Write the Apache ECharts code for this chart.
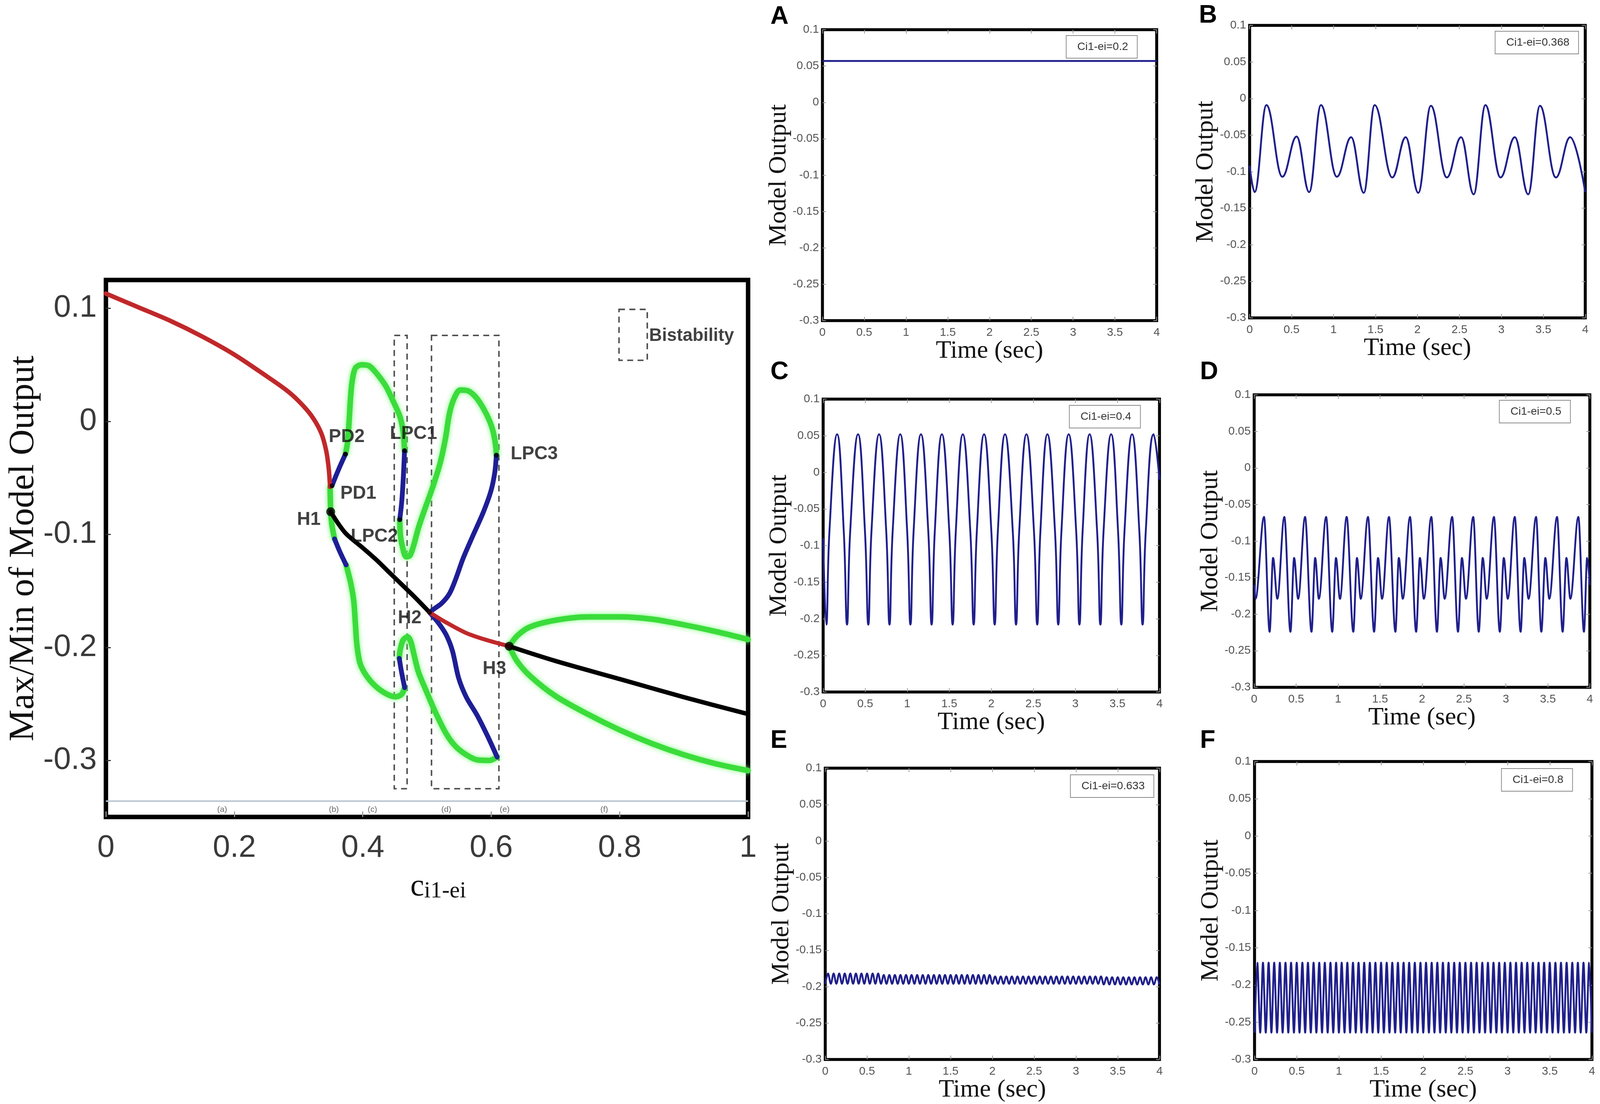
<!DOCTYPE html>
<html lang="en">
<head>
<meta charset="UTF-8">
<title>Bifurcation diagram and model output</title>
<script src="https://cdn.jsdelivr.net/npm/echarts@6/dist/echarts.min.js"></script>
<style>
  html, body { margin: 0; padding: 0; background: #fff; overflow: hidden; }
  #main { width: 100vw; height: 100vh; }
</style>
</head>
<body>
<div id="main"></div>
<script>
// ---------- left panel: branches of the bifurcation diagram [ci1-ei, max/min output]
var redUpper = [[0,0.113],[0.05,0.101],[0.1,0.089],[0.15,0.075],[0.2,0.059],[0.25,0.040],[0.28,0.028],
  [0.30,0.018],[0.32,0.005],[0.335,-0.010],[0.343,-0.026],[0.347,-0.042],[0.349,-0.058]];
var greenH1 = [[0.349,-0.058],[0.3495,-0.070],[0.350,-0.080],[0.352,-0.092],[0.356,-0.104]];
var bluePD = [[0.352,-0.057],[0.362,-0.043],[0.373,-0.029]];
var blueH1low = [[0.356,-0.104],[0.364,-0.115],[0.374,-0.127]];
var greenTopLeft = [[0.373,-0.029],[0.3764,-0.018],[0.3788,0.001],[0.3812,0.023],[0.3836,0.036],[0.3884,0.047],
  [0.398,0.050],[0.410,0.049],[0.422,0.042],[0.436,0.031],[0.448,0.017],[0.458,0.004],[0.463,-0.010],[0.465,-0.026]];
var blueLPC1 = [[0.465,-0.026],[0.463,-0.051],[0.4605,-0.072],[0.4575,-0.087]];
var greenTopRight = [[0.4575,-0.087],[0.4585,-0.100],[0.4616,-0.1105],[0.4676,-0.120],[0.4736,-0.1186],[0.4796,-0.109],
  [0.4868,-0.094],[0.4964,-0.078],[0.5084,-0.059],[0.5204,-0.037],[0.5288,-0.015],[0.5348,0.0065],[0.542,0.020],
  [0.5516,0.0277],[0.5636,0.027],[0.578,0.020],[0.5924,0.0065],[0.602,-0.007],[0.6068,-0.021],[0.608,-0.030]];
var blueLPC3up = [[0.608,-0.030],[0.6056,-0.045],[0.5996,-0.0615],[0.5876,-0.0805],[0.5708,-0.102],[0.5564,-0.121],
  [0.5444,-0.140],[0.5348,-0.1526],[0.5228,-0.161],[0.5108,-0.166],[0.504,-0.169]];
var blueLPC3down = [[0.504,-0.169],[0.518,-0.1785],[0.530,-0.189],[0.5396,-0.203],[0.5492,-0.227],[0.5612,-0.244],
  [0.578,-0.260],[0.5948,-0.279],[0.6092,-0.297]];
var greenBottomMid = [[0.6092,-0.297],[0.5972,-0.300],[0.578,-0.2995],[0.5612,-0.295],[0.5444,-0.2875],[0.530,-0.2765],
  [0.5132,-0.2575],[0.4988,-0.2385],[0.4868,-0.222],[0.4796,-0.206],[0.4748,-0.195],[0.470,-0.1907],[0.4628,-0.1934],
  [0.458,-0.203],[0.4568,-0.2097]];
var blueLPC2low = [[0.4568,-0.2097],[0.4604,-0.222],[0.4652,-0.2356]];
var greenBottomLeft = [[0.4652,-0.2356],[0.4604,-0.2416],[0.4508,-0.2437],[0.4364,-0.241],[0.4196,-0.2342],
  [0.4052,-0.2247],[0.3956,-0.2138],[0.3908,-0.1975],[0.3884,-0.1785],[0.386,-0.1594],[0.3812,-0.1431],[0.374,-0.127]];
var blackMid = [[0.350,-0.080],[0.36,-0.089],[0.374,-0.0995],[0.40,-0.112],[0.422,-0.123],[0.44,-0.133],
  [0.46,-0.144],[0.48,-0.155],[0.504,-0.169]];
var redMid = [[0.504,-0.169],[0.53,-0.178],[0.56,-0.187],[0.59,-0.193],[0.628,-0.199]];
var blackRight = [[0.628,-0.199],[0.7,-0.212],[0.8,-0.228],[0.9,-0.244],[1.0,-0.259]];
var greenRightUp = [[0.628,-0.199],[0.64,-0.190],[0.66,-0.182],[0.70,-0.176],[0.75,-0.173],[0.80,-0.173],
  [0.85,-0.175],[0.90,-0.180],[0.95,-0.186],[1.0,-0.193]];
var greenRightLow = [[0.628,-0.199],[0.64,-0.212],[0.66,-0.225],[0.70,-0.243],[0.75,-0.259],[0.80,-0.273],
  [0.85,-0.285],[0.90,-0.295],[0.95,-0.303],[1.0,-0.309]];

var hopfPoints = [[0.350,-0.080],[0.628,-0.199]];
var smallPoints = [[0.504,-0.169],[0.352,-0.057],[0.373,-0.029],[0.465,-0.026],[0.4575,-0.087],[0.608,-0.030]];

var annotNames = ['PD2','PD1','H1','LPC2','LPC1','LPC3','H2','H3'];
var annotAt = [[0.375,-0.014],[0.393,-0.064],[0.316,-0.087],[0.418,-0.102],[0.479,-0.011],[0.667,-0.029],
  [0.473,-0.174],[0.605,-0.219]];

var bistableBoxes = [[0.449,0.076,0.469,-0.325],[0.507,0.076,0.612,-0.325]];
var bistableKey = [0.799,0.099,0.843,0.054];
var bistableLabel = [0.912,0.0756];

var regionLineY = -0.336;
var regionCuts = [0.340,0.375,0.449,0.598,0.632];
var regionNames = ['(a)','(b)','(c)','(d)','(e)','(f)'];
var regionMid = [0.181,0.355,0.415,0.530,0.621,0.776];

var leftYTicks = [-0.3,-0.2,-0.1,0,0.1];

// ---------- right panels: model output vs time [sec, output]
var panelNames = ['Ci1-ei=0.2','Ci1-ei=0.368','Ci1-ei=0.4','Ci1-ei=0.5','Ci1-ei=0.633','Ci1-ei=0.8'];
var panelLetters = ['A','B','C','D','E','F'];

var waveA = [[0,0.057],[4,0.057]];
var waveB = [[0,-0.092],[0.06,-0.128],[0.20,-0.009],[0.39,-0.107],[0.56,-0.052],[0.71,-0.128],[0.85,-0.009],
  [1.04,-0.107],[1.21,-0.053],[1.36,-0.129],[1.49,-0.009],[1.70,-0.108],[1.86,-0.053],[2.01,-0.129],[2.16,-0.010],
  [2.35,-0.108],[2.52,-0.053],[2.67,-0.131],[2.81,-0.009],[2.99,-0.108],[3.16,-0.053],[3.32,-0.131],[3.46,-0.010],
  [3.65,-0.108],[3.82,-0.053],[4.0,-0.128]];
var waveC = [[0,-0.09],[0.038,-0.208],[0.075,-0.08],[0.166,0.052],[0.245,-0.08],[0.284,-0.208],[0.322,-0.08],
  [0.415,0.052],[0.497,-0.08],[0.537,-0.208],[0.575,-0.08],[0.665,0.052],[0.75,-0.08],[0.789,-0.208],[0.827,-0.08],
  [0.917,0.052],[0.999,-0.08],[1.038,-0.208],[1.076,-0.08],[1.163,0.052],[1.25,-0.08],[1.29,-0.208],[1.328,-0.08],
  [1.412,0.052],[1.50,-0.08],[1.54,-0.208],[1.578,-0.08],[1.661,0.052],[1.75,-0.08],[1.79,-0.208],[1.828,-0.08],
  [1.914,0.052],[2.0,-0.08],[2.04,-0.208],[2.078,-0.08],[2.163,0.052],[2.255,-0.08],[2.294,-0.208],[2.332,-0.08],
  [2.418,0.052],[2.507,-0.08],[2.546,-0.208],[2.584,-0.08],[2.667,0.052],[2.757,-0.08],[2.796,-0.208],[2.834,-0.08],
  [2.920,0.052],[3.009,-0.08],[3.048,-0.208],[3.086,-0.08],[3.169,0.052],[3.258,-0.08],[3.297,-0.208],[3.335,-0.08],
  [3.425,0.052],[3.507,-0.08],[3.546,-0.208],[3.584,-0.08],[3.674,0.052],[3.76,-0.08],[3.799,-0.208],[3.837,-0.08],
  [3.93,0.052],[4.0,-0.01]];
var waveD = [[0,-0.16],[0.016,-0.179],[0.117,-0.067],[0.184,-0.224],[0.225,-0.123],[0.276,-0.179],[0.359,-0.067],
  [0.432,-0.224],[0.476,-0.123],[0.524,-0.179],[0.606,-0.067],[0.683,-0.224],[0.727,-0.123],[0.771,-0.179],
  [0.857,-0.067],[0.930,-0.224],[0.975,-0.123],[1.022,-0.179],[1.102,-0.067],[1.181,-0.224],[1.225,-0.123],
  [1.27,-0.179],[1.356,-0.067],[1.429,-0.224],[1.476,-0.123],[1.524,-0.179],[1.606,-0.067],[1.683,-0.224],
  [1.724,-0.123],[1.771,-0.179],[1.857,-0.067],[1.930,-0.224],[1.975,-0.123],[2.022,-0.179],[2.111,-0.067],
  [2.178,-0.224],[2.222,-0.123],[2.27,-0.179],[2.359,-0.067],[2.429,-0.224],[2.476,-0.123],[2.524,-0.179],
  [2.610,-0.067],[2.676,-0.224],[2.724,-0.123],[2.771,-0.179],[2.857,-0.067],[2.927,-0.224],[2.975,-0.123],
  [3.022,-0.179],[3.105,-0.067],[3.175,-0.224],[3.219,-0.123],[3.27,-0.179],[3.359,-0.067],[3.422,-0.224],
  [3.470,-0.123],[3.517,-0.179],[3.609,-0.067],[3.676,-0.224],[3.721,-0.123],[3.768,-0.179],[3.863,-0.067],
  [3.930,-0.224],[3.968,-0.123],[4.0,-0.16]];

// E and F: half-period turning points, read every 1/30 s
var tHalf = [0,0.033,0.067,0.1,0.133,0.167,0.2,0.233,0.267,0.3,0.333,0.367,0.4,0.433,0.467,0.5,0.533,0.567,0.6,0.633,
  0.667,0.7,0.733,0.767,0.8,0.833,0.867,0.9,0.933,0.967,
  1,1.033,1.067,1.1,1.133,1.167,1.2,1.233,1.267,1.3,1.333,1.367,1.4,1.433,1.467,1.5,1.533,1.567,1.6,1.633,
  1.667,1.7,1.733,1.767,1.8,1.833,1.867,1.9,1.933,1.967,
  2,2.033,2.067,2.1,2.133,2.167,2.2,2.233,2.267,2.3,2.333,2.367,2.4,2.433,2.467,2.5,2.533,2.567,2.6,2.633,
  2.667,2.7,2.733,2.767,2.8,2.833,2.867,2.9,2.933,2.967,
  3,3.033,3.067,3.1,3.133,3.167,3.2,3.233,3.267,3.3,3.333,3.367,3.4,3.433,3.467,3.5,3.533,3.567,3.6,3.633,
  3.667,3.7,3.733,3.767,3.8,3.833,3.867,3.9,3.933,3.967,4];
var eVals = [
  -0.196,-0.182,-0.196,-0.182,-0.196,-0.182,-0.196,-0.182,-0.196,-0.182,
  -0.196,-0.182,-0.196,-0.182,-0.196,-0.182,-0.196,-0.182,-0.196,-0.182,
  -0.196,-0.184,-0.196,-0.184,-0.196,-0.184,-0.196,-0.184,-0.196,-0.184,
  -0.196,-0.184,-0.196,-0.184,-0.196,-0.184,-0.196,-0.184,-0.196,-0.184,
  -0.196,-0.184,-0.196,-0.184,-0.196,-0.184,-0.196,-0.184,-0.196,-0.184,
  -0.196,-0.184,-0.196,-0.184,-0.196,-0.184,-0.196,-0.184,-0.196,-0.184,
  -0.196,-0.186,-0.196,-0.186,-0.196,-0.186,-0.196,-0.186,-0.196,-0.186,
  -0.196,-0.186,-0.196,-0.186,-0.196,-0.186,-0.196,-0.186,-0.196,-0.186,
  -0.196,-0.186,-0.196,-0.186,-0.196,-0.186,-0.196,-0.186,-0.196,-0.186,
  -0.196,-0.186,-0.196,-0.186,-0.196,-0.186,-0.196,-0.186,-0.196,-0.186,
  -0.197,-0.187,-0.197,-0.187,-0.197,-0.187,-0.197,-0.187,-0.197,-0.187,
  -0.197,-0.187,-0.197,-0.187,-0.197,-0.187,-0.197,-0.187,-0.197,-0.187,
  -0.197];
var fVals = [
  -0.264,-0.170,-0.264,-0.170,-0.264,-0.170,-0.264,-0.170,-0.264,-0.170,
  -0.264,-0.170,-0.264,-0.170,-0.264,-0.170,-0.264,-0.170,-0.264,-0.170,
  -0.264,-0.170,-0.264,-0.170,-0.264,-0.170,-0.264,-0.170,-0.264,-0.170,
  -0.264,-0.170,-0.264,-0.170,-0.264,-0.170,-0.264,-0.170,-0.264,-0.170,
  -0.264,-0.170,-0.264,-0.170,-0.264,-0.170,-0.264,-0.170,-0.264,-0.170,
  -0.264,-0.170,-0.264,-0.170,-0.264,-0.170,-0.264,-0.170,-0.264,-0.170,
  -0.264,-0.170,-0.264,-0.170,-0.264,-0.170,-0.264,-0.170,-0.264,-0.170,
  -0.264,-0.170,-0.264,-0.170,-0.264,-0.170,-0.264,-0.170,-0.264,-0.170,
  -0.264,-0.170,-0.264,-0.170,-0.264,-0.170,-0.264,-0.170,-0.264,-0.170,
  -0.264,-0.170,-0.264,-0.170,-0.264,-0.170,-0.264,-0.170,-0.264,-0.170,
  -0.264,-0.170,-0.264,-0.170,-0.264,-0.170,-0.264,-0.170,-0.264,-0.170,
  -0.264,-0.170,-0.264,-0.170,-0.264,-0.170,-0.264,-0.170,-0.264,-0.170,
  -0.264];

// ---------- layout, in pixels of the 4562 x 2827 picture (stretched to the real viewport below)
var leftBox = [302, 717, 1831, 1375];
var panelBoxes = [
  [2345, 76, 953, 745],
  [3563, 65, 957, 749],
  [2347, 1022, 959, 750],
  [3576, 1011, 957, 749],
  [2353, 1967, 953, 746],
  [3577, 1950, 962, 763]
];
var legendAt = [[3040,91],[4263,80],[3049,1038],[4275,1025],[3052,1984],[4281,1968]];
var letterAt = [[2191,6],[3413,3],[2191,916],[3416,916],[2191,1860],[3416,1860]];
var waveSmooth = [0, 0.4, 0.45, 0.35, 0.35, 0.3];
var waveMono = [undefined, 'x', undefined, 'x', 'x', 'x'];

var SANS = 'Liberation Sans, Arial, sans-serif';
var SERIF = 'Liberation Serif, Times New Roman, serif';
var RED = '#c0282a', GREEN = '#3bdc3b', BLUE = '#1e1e96', WAVE = '#1f1f8c';

var dom = document.getElementById('main');
var KX = dom.clientWidth / 4562, KY = dom.clientHeight / 2827, KF = Math.sqrt(KX * KY);
function X(v) { return v * KX; }   // horizontal distances
function Y(v) { return v * KY; }   // vertical distances
function F(v) { return v * KF; }   // fonts, widths, symbols

function zip(xs, ys) {
  return xs.map(function (x, i) { return [x, ys[i]]; });
}

function box(b, bw) {
  return {show: true, borderColor: '#000', borderWidth: F(bw),
    left: X(b[0]), top: Y(b[1]), width: X(b[2]), height: Y(b[3])};
}

function branch(data, color, width, z, glow) {
  return {
    type: 'line', data: data, xAxisIndex: 0, yAxisIndex: 0,
    showSymbol: false, smooth: 0.3, silent: true, z: z,
    lineStyle: {
      color: color, width: F(width), cap: 'round', join: 'round',
      shadowBlur: glow ? F(14) : 0, shadowColor: glow ? 'rgba(120,255,120,0.95)' : 'rgba(0,0,0,0)'
    }
  };
}

var grids = [box(leftBox, 12)];
panelBoxes.forEach(function (b) { grids.push(box(b, 8)); });

var xAxes = [{
  gridIndex: 0, type: 'value', min: 0, max: 1, interval: 0.2,
  axisLine: {show: false, onZero: false}, splitLine: {show: false},
  axisTick: {show: true, inside: true, length: Y(14), lineStyle: {color: '#9a9a9a', width: F(3)}},
  axisLabel: {fontSize: F(84), color: '#3a3a3a', fontFamily: SANS, margin: Y(40)},
  name: '{c|c}{s|i1-ei}', nameLocation: 'middle', nameGap: Y(140),
  nameTextStyle: {
    padding: [0, 0, 0, X(64)],
    rich: {
      c: {fontSize: F(84), fontFamily: SERIF, color: '#111'},
      s: {fontSize: F(62), fontFamily: SERIF, color: '#111', padding: [F(22), 0, 0, 0]}
    }
  }
}];
var yAxes = [{
  gridIndex: 0, type: 'value', min: -0.35, max: 0.125,
  axisLine: {show: false, onZero: false}, splitLine: {show: false},
  axisTick: {show: true, inside: true, customValues: leftYTicks, length: X(14),
    lineStyle: {color: '#333', width: F(3)}},
  axisLabel: {customValues: leftYTicks, fontSize: F(84), color: '#3a3a3a', fontFamily: SANS, margin: X(26)},
  name: 'Max/Min of Model Output', nameLocation: 'middle', nameGap: X(170),
  nameTextStyle: {fontSize: F(97), fontFamily: SERIF, color: '#111'}
}];

var xTick = {show: true, inside: true, length: Y(10), lineStyle: {color: '#9a9a9a', width: F(2)}};
var yTick = {show: true, inside: true, length: X(10), lineStyle: {color: '#9a9a9a', width: F(2)}};
panelBoxes.forEach(function (b, i) {
  var g = i + 1;
  xAxes.push({
    gridIndex: g, type: 'value', min: 0, max: 4, interval: 0.5,
    axisLine: {show: false, onZero: false}, splitLine: {show: false}, axisTick: xTick,
    axisLabel: {fontSize: F(31), color: '#555', fontFamily: SANS, margin: Y(16)},
    name: 'Time (sec)', nameLocation: 'middle', nameGap: Y(40),
    nameTextStyle: {fontSize: F(68), fontFamily: SERIF, color: '#111'}
  });
  xAxes.push({
    gridIndex: g, type: 'value', position: 'top', min: 0, max: 4, interval: 0.5,
    axisLine: {show: false, onZero: false}, splitLine: {show: false}, axisTick: xTick, axisLabel: {show: false}
  });
  yAxes.push({
    gridIndex: g, type: 'value', min: -0.3, max: 0.1, interval: 0.05,
    axisLine: {show: false, onZero: false}, splitLine: {show: false}, axisTick: yTick,
    axisLabel: {fontSize: F(31), color: '#555', fontFamily: SANS, margin: X(10)},
    name: 'Model Output', nameLocation: 'middle', nameGap: X(88),
    nameTextStyle: {fontSize: F(68), fontFamily: SERIF, color: '#111'}
  });
  yAxes.push({
    gridIndex: g, type: 'value', position: 'right', min: -0.3, max: 0.1, interval: 0.05,
    axisLine: {show: false, onZero: false}, splitLine: {show: false}, axisTick: yTick, axisLabel: {show: false}
  });
});

var series = [
  // region strip with its separators, plus the dashed bistability boxes
  {
    type: 'line', data: [[0, regionLineY], [1, regionLineY]], xAxisIndex: 0, yAxisIndex: 0,
    showSymbol: false, silent: true, z: 1,
    lineStyle: {color: '#b7c3d0', width: F(4)},
    markLine: {
      silent: true, symbol: ['none', 'none'], label: {show: false},
      lineStyle: {color: '#c4c4c4', width: F(2), type: 'solid'},
      data: regionCuts.map(function (x) { return [{coord: [x, regionLineY - 0.002]}, {coord: [x, -0.351]}]; })
    },
    markArea: {
      silent: true,
      itemStyle: {color: 'rgba(0,0,0,0)', borderColor: '#4d4d4d', borderWidth: F(4), borderType: [F(16), F(12)]},
      data: bistableBoxes.concat([bistableKey]).map(function (r) {
        return [{coord: [r[0], r[1]]}, {coord: [r[2], r[3]]}];
      })
    }
  },
  {
    type: 'scatter', xAxisIndex: 0, yAxisIndex: 0, symbolSize: 1, silent: true, z: 7,
    itemStyle: {color: 'rgba(0,0,0,0)'},
    label: {show: true, position: 'inside', formatter: '{b}', fontSize: F(22), color: '#444', fontFamily: SANS},
    data: regionNames.map(function (n, i) { return {name: n, value: [regionMid[i], -0.3435]}; })
  },
  branch(greenH1, GREEN, 15, 2, true),
  branch(greenTopLeft, GREEN, 15, 2, true),
  branch(greenTopRight, GREEN, 15, 2, true),
  branch(greenBottomMid, GREEN, 15, 2, true),
  branch(greenBottomLeft, GREEN, 15, 2, true),
  branch(greenRightUp, GREEN, 15, 2, true),
  branch(greenRightLow, GREEN, 15, 2, true),
  branch(bluePD, BLUE, 13, 3),
  branch(blueH1low, BLUE, 13, 3),
  branch(blueLPC1, BLUE, 13, 3),
  branch(blueLPC3up, BLUE, 13, 3),
  branch(blueLPC3down, BLUE, 13, 3),
  branch(blueLPC2low, BLUE, 13, 3),
  branch(blackMid, '#000', 12, 4),
  branch(blackRight, '#000', 12, 4),
  branch(redUpper, RED, 12, 4),
  branch(redMid, RED, 11, 4),
  {
    type: 'scatter', xAxisIndex: 0, yAxisIndex: 0, data: hopfPoints, symbolSize: F(24), silent: true, z: 6,
    itemStyle: {color: '#000'}
  },
  {
    type: 'scatter', xAxisIndex: 0, yAxisIndex: 0, data: smallPoints, symbolSize: F(13), silent: true, z: 6,
    itemStyle: {color: '#000'}
  },
  {
    type: 'scatter', xAxisIndex: 0, yAxisIndex: 0, symbolSize: 1, silent: true, z: 7,
    itemStyle: {color: 'rgba(0,0,0,0)'},
    label: {show: true, position: 'inside', formatter: '{b}', fontSize: F(50), fontWeight: 'bold',
      color: '#111', fontFamily: SANS},
    data: annotNames.map(function (n, i) { return {name: n, value: annotAt[i]}; })
      .concat([{name: 'Bistability', value: bistableLabel, label: {fontSize: F(48)}}])
  }
];

var waves = [waveA, waveB, waveC, waveD, zip(tHalf, eVals), zip(tHalf, fVals)];
waves.forEach(function (w, i) {
  var s = {
    type: 'line', name: panelNames[i], data: w,
    xAxisIndex: 1 + 2 * i, yAxisIndex: 1 + 2 * i,
    showSymbol: false, silent: true, z: 3,
    smooth: waveSmooth[i],
    lineStyle: {color: WAVE, width: F(5)}
  };
  if (waveMono[i]) s.smoothMonotone = waveMono[i];
  series.push(s);
});

var legends = panelNames.map(function (n, i) {
  return {
    data: [n], left: X(legendAt[i][0]), top: Y(legendAt[i][1]), orient: 'horizontal',
    icon: 'none', itemWidth: 0, itemHeight: 0, selectedMode: false,
    borderColor: '#8a8a8a', borderWidth: F(2), padding: [Y(15), X(26)], backgroundColor: '#fff',
    textStyle: {fontSize: F(30), color: '#333', fontFamily: SANS}
  };
});

var titles = panelLetters.map(function (l, i) {
  return {
    text: l, left: X(letterAt[i][0]), top: Y(letterAt[i][1]),
    textStyle: {fontSize: F(68), fontWeight: 'bold', color: '#000', fontFamily: SANS}
  };
});

var chart = echarts.init(dom);
chart.setOption({
  backgroundColor: '#fff',
  animation: false,
  title: titles,
  legend: legends,
  grid: grids,
  xAxis: xAxes,
  yAxis: yAxes,
  series: series
});
</script>
</body>
</html>
